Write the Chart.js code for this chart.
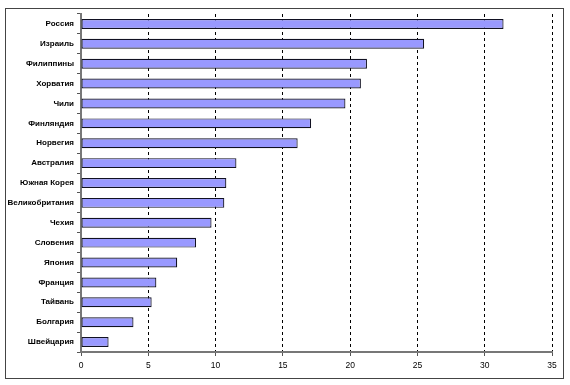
<!DOCTYPE html>
<html>
<head>
<meta charset="utf-8">
<script src="https://cdn.jsdelivr.net/npm/chart.js@4/dist/chart.umd.min.js"></script>
<style>
  html, body { margin: 0; padding: 0; background: #fff; }
  #wrap { position: relative; width: 570px; height: 385px; }
  #frame {
    position: absolute; left: 5px; top: 8px; width: 557px; height: 369px;
    border: 1px solid #444; pointer-events: none;
  }
</style>
</head>
<body>
<div id="wrap">
  <canvas id="chart" width="570" height="385"></canvas>
  <div id="frame"></div>
</div>
<script>
const countries = [
  'Россия', 'Израиль', 'Филиппины', 'Хорватия', 'Чили', 'Финляндия', 'Норвегия',
  'Австралия', 'Южная Корея', 'Великобритания', 'Чехия', 'Словения', 'Япония',
  'Франция', 'Тайвань', 'Болгария', 'Швейцария',
];
const values = [31.4, 25.5, 21.25, 20.8, 19.65, 17.1, 16.1, 11.55, 10.8, 10.65, 9.7, 8.55, 7.15, 5.6, 5.25, 3.9, 2.05];
const xMin = 0;
const xMax = 35;
const xStep = 5;

const context = document.getElementById('chart').getContext('2d');

new Chart(context, {
  type: 'bar',
  data: {
    labels: countries,
    datasets: [
      {
        data: values,
        backgroundColor: '#9999ff',
        borderColor: '#111122',
        borderWidth: 1.2,
        borderSkipped: false,
        categoryPercentage: 1,
        barPercentage: 0.5,
      },
    ],
  },
  options: {
    indexAxis: 'y',
    responsive: false,
    animation: false,
    layout: { padding: { top: 14, right: 18, left: 0, bottom: 0 } },
    plugins: {
      legend: { display: false },
      tooltip: { enabled: false },
    },
    scales: {
      x: {
        min: xMin,
        max: xMax,
        ticks: {
          stepSize: xStep,
          color: '#000',
          padding: 5,
          font: { family: 'Liberation Sans', size: 8.5 },
        },
        grid: {
          color: (ctx) => (ctx.tick && ctx.tick.value === 0 ? 'rgba(0,0,0,0)' : '#000'),
          lineWidth: 1,
          tickColor: '#555',
          tickLength: 4,
        },
        border: { color: '#777', width: 2, dash: [3, 3] },
        afterFit: (scale) => { scale.height = 33; },
      },
      y: {
        ticks: {
          color: '#000',
          padding: 3,
          font: { family: 'Liberation Sans', size: 8, weight: 'bold' },
        },
        grid: {
          offset: true,
          drawOnChartArea: false,
          tickColor: '#555',
          tickLength: 4,
        },
        border: { color: '#777', width: 2 },
        afterFit: (scale) => { scale.width = 81; },
      },
    },
  },
});
</script>
</body>
</html>
